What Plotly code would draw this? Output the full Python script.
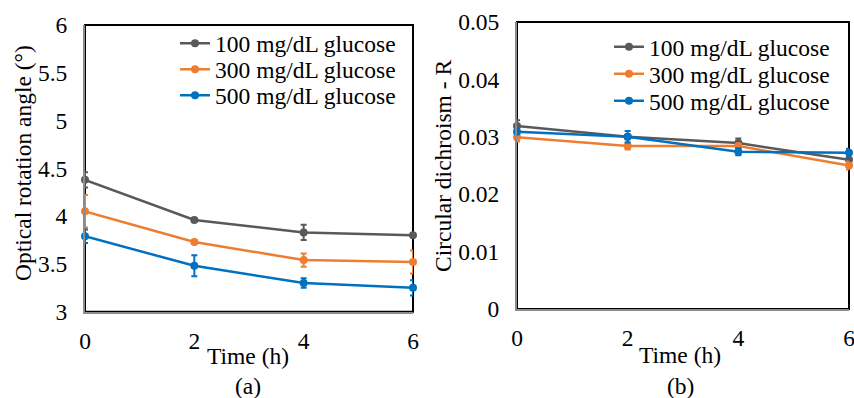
import plotly.graph_objects as go

time_h = [0, 2, 4, 6]
series_names = ["100 mg/dL glucose", "300 mg/dL glucose", "500 mg/dL glucose"]
colors = ["#595959", "#ED7D31", "#0070C0"]

# (a) optical rotation angle
rot_100 = [4.38, 3.96, 3.83, 3.80]
rot_300 = [4.05, 3.73, 3.54, 3.52]
rot_500 = [3.79, 3.48, 3.30, 3.25]
rot_err_100 = [0.08, 0.02, 0.08, 0.02]
rot_err_300 = [0.17, 0.02, 0.07, 0.12]
rot_err_500 = [0.07, 0.11, 0.05, 0.08]

# (b) circular dichroism
cd_100 = [0.0319, 0.0300, 0.0289, 0.0260]
cd_300 = [0.0299, 0.0284, 0.0284, 0.0250]
cd_500 = [0.0309, 0.0300, 0.0274, 0.0272]
cd_err_100 = [0.0010, 0.0003, 0.0008, 0.0004]
cd_err_300 = [0.0007, 0.0006, 0.0004, 0.0007]
cd_err_500 = [0.0004, 0.0010, 0.0006, 0.0007]

FONT = "Liberation Serif, Times New Roman, serif"
FS = 23.5
W, H = 854, 398


def px(x):
    return x / W


def py(y):
    return 1 - y / H


# one legend per entry so row spacing can follow the reference
left_legends = ["legend", "legend3", "legend4"]
right_legends = ["legend2", "legend5", "legend6"]
left_rows = [43.5, 69.5, 95.5]
right_rows = [47, 74, 101]

fig = go.Figure()

for name, c, y, e, lg in zip(series_names, colors, [rot_100, rot_300, rot_500],
                             [rot_err_100, rot_err_300, rot_err_500], left_legends):
    fig.add_trace(go.Scatter(
        x=time_h, y=y, name=name, mode="lines+markers", cliponaxis=False,
        line=dict(color=c, width=2.5), marker=dict(color=c, size=8),
        error_y=dict(type="data", array=e, color=c, thickness=2, width=3),
        xaxis="x", yaxis="y", legend=lg))

for name, c, y, e, lg in zip(series_names, colors, [cd_100, cd_300, cd_500],
                             [cd_err_100, cd_err_300, cd_err_500], right_legends):
    fig.add_trace(go.Scatter(
        x=time_h, y=y, name=name, mode="lines+markers", cliponaxis=False,
        line=dict(color=c, width=2.5), marker=dict(color=c, size=8),
        error_y=dict(type="data", array=e, color=c, thickness=2, width=3),
        xaxis="x2", yaxis="y2", legend=lg))

axis_common = dict(showgrid=False, zeroline=False, showline=True,
                   linecolor="#8c8c8c", linewidth=2, ticks="", automargin=False,
                   ticklabeloverflow="allow",
                   tickfont=dict(family=FONT, size=FS, color="black"))

legend_layout = {}
for lg, row in zip(left_legends, left_rows):
    legend_layout[lg] = dict(x=px(175), y=py(row), xanchor="left", yanchor="middle",
                             bgcolor="rgba(0,0,0,0)", font=dict(family=FONT, size=FS),
                             itemwidth=30)
for lg, row in zip(right_legends, right_rows):
    legend_layout[lg] = dict(x=px(609), y=py(row), xanchor="left", yanchor="middle",
                             bgcolor="rgba(0,0,0,0)", font=dict(family=FONT, size=FS),
                             itemwidth=30)

fig.update_layout(
    width=W, height=H,
    margin=dict(l=0, r=0, t=0, b=0),
    paper_bgcolor="white", plot_bgcolor="white",
    font=dict(family=FONT, size=FS, color="black"),
    xaxis=dict(domain=[px(85), px(413)], range=[0, 6], tickvals=time_h,
               anchor="y", ticklabelstandoff=7, **axis_common),
    yaxis=dict(domain=[py(311.7), py(25)], range=[3, 6], dtick=0.5,
               anchor="x", ticklabelstandoff=11, **axis_common),
    xaxis2=dict(domain=[px(517), px(849)], range=[0, 6], tickvals=time_h,
                anchor="y2", ticklabelstandoff=7, **axis_common),
    yaxis2=dict(domain=[py(309), py(22)], range=[0, 0.05], dtick=0.01,
                anchor="x2", ticklabelstandoff=11, **axis_common),
    showlegend=True,
    **legend_layout,
)

# black frame around each plot area
for xr, yr in [("x domain", "y domain"), ("x2 domain", "y2 domain")]:
    fig.add_shape(type="rect", xref=xr, yref=yr, x0=0, x1=1, y0=0, y1=1,
                  line=dict(color="black", width=2), layer="below")

ann = [
    dict(text="Time (h)", x=px(248), y=py(356)),
    dict(text="(a)", x=px(248), y=py(386)),
    dict(text="Time (h)", x=px(680), y=py(355)),
    dict(text="(b)", x=px(680), y=py(386)),
]
for a in ann:
    fig.add_annotation(xref="paper", yref="paper", showarrow=False,
                       xanchor="center", yanchor="middle",
                       font=dict(family=FONT, size=FS, color="black"), **a)

fig.add_annotation(text="Optical rotation angle (°)", xref="paper", yref="paper",
                   x=px(23), y=py(163), textangle=-90, showarrow=False,
                   xanchor="center", yanchor="middle",
                   font=dict(family=FONT, size=FS, color="black"))
fig.add_annotation(text="Circular dichroism - R", xref="paper", yref="paper",
                   x=px(443), y=py(166), textangle=-90, showarrow=False,
                   xanchor="center", yanchor="middle",
                   font=dict(family=FONT, size=FS, color="black"))

fig.write_html("out.html", config={"displayModeBar": False},
               post_script="document.body.style.margin='0';document.body.style.overflow='hidden';")
